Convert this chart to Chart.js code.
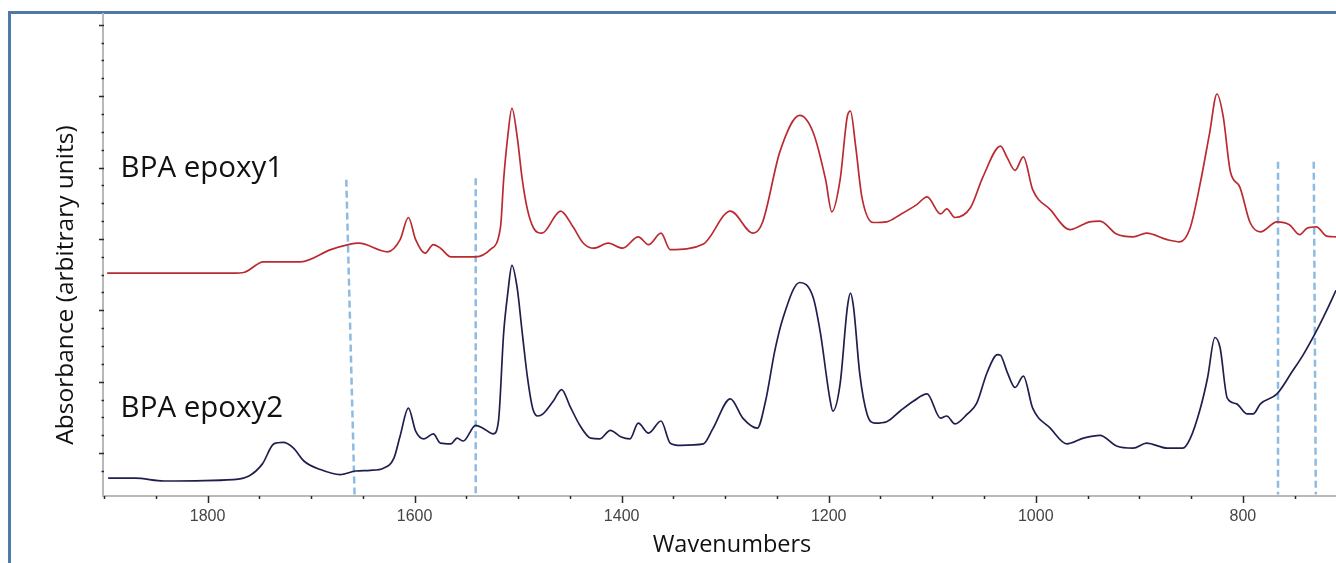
<!DOCTYPE html>
<html>
<head>
<meta charset="utf-8">
<script src="https://cdn.jsdelivr.net/npm/chart.js@4.4.0/dist/chart.umd.min.js"></script>
<style>
    html, body { margin: 0; padding: 0; background: #fff; }
    body { width: 1336px; height: 563px; overflow: hidden; position: relative; }
    .frame {
        position: absolute; left: 8px; top: 11px; right: -10px; bottom: -10px;
        border-left: 3px solid #4f7aa8; border-top: 3px solid #4f7aa8;
    }
    #wrap { position: absolute; left: 0; top: 0; width: 1336px; height: 563px; }
</style>
</head>
<body>
<div class="frame"></div>
<div id="wrap"><canvas id="irChart"></canvas></div>
<script>
// Spectre BPA epoxy1 (rouge)
const epoxy1Wn = [1897, 1842, 1775, 1765, 1746, 1710, 1681, 1664, 1654, 1626, 1614, 1606, 1599, 1590, 1582, 1575, 1565, 1541, 1527,
    1517, 1514, 1510, 1506, 1501, 1496, 1491, 1485, 1477, 1459, 1447, 1437, 1427, 1413, 1399, 1384, 1374, 1362, 1353, 1321,
    1295, 1273, 1264, 1247, 1228, 1215, 1203, 1197, 1189, 1182, 1179, 1174, 1168, 1157, 1144, 1131, 1115, 1105, 1092, 1086,
    1078, 1063, 1051, 1034, 1028, 1020, 1012, 1003, 986, 967, 948, 938, 922, 906, 893, 873, 861, 851, 841, 832, 825, 819,
    812, 803, 793, 783, 767, 755, 745, 738, 729, 719, 710];
const epoxy1Abs = [2.52, 2.52, 2.52, 2.53, 2.68, 2.68, 2.85, 2.92, 2.94, 2.82, 2.99, 3.30, 2.99, 2.80, 2.92, 2.87, 2.75, 2.75, 2.85,
    3.17, 3.83, 4.44, 4.83, 4.44, 3.83, 3.41, 3.15, 3.08, 3.39, 3.17, 2.94, 2.87, 2.94, 2.87, 3.03, 2.92, 3.08, 2.85, 2.93,
    3.39, 3.08, 3.23, 4.23, 4.73, 4.49, 3.83, 3.38, 3.83, 4.72, 4.79, 4.30, 3.59, 3.23, 3.24, 3.34, 3.48, 3.59, 3.35, 3.42,
    3.30, 3.44, 3.87, 4.30, 4.15, 3.96, 4.15, 3.69, 3.41, 3.13, 3.24, 3.25, 3.07, 3.03, 3.08, 2.99, 2.96, 3.15, 3.79, 4.49, 5.03, 4.72,
    3.94, 3.73, 3.23, 3.10, 3.24, 3.20, 3.06, 3.15, 3.17, 3.04, 3.03];

// Spectre BPA epoxy2 (bleu nuit)
const epoxy2Wn = [1896, 1870, 1842, 1775, 1760, 1747, 1736, 1727, 1717, 1707, 1691, 1672, 1657, 1643, 1630, 1620, 1614, 1606, 1599,
    1591, 1582, 1575, 1565, 1559, 1553, 1541, 1534, 1524, 1519, 1514, 1510, 1506, 1501, 1496, 1491, 1486, 1481, 1476, 1466,
    1458, 1450, 1440, 1430, 1421, 1411, 1401, 1392, 1384, 1374, 1362, 1353, 1343, 1321, 1312, 1295, 1283, 1269, 1261, 1252,
    1244, 1228, 1215, 1208, 1199, 1196, 1189, 1182, 1179, 1176, 1170, 1163, 1155, 1144, 1131, 1118, 1105, 1092, 1086, 1078,
    1066, 1057, 1047, 1037, 1034, 1028, 1020, 1012, 1003, 986, 970, 954, 938, 922, 906, 893, 873, 858, 851, 841, 834, 827,
    822, 815, 806, 796, 790, 783, 767, 752, 742, 730, 719, 710];
const epoxy2Abs = [-0.35, -0.35, -0.39, -0.37, -0.32, -0.15, 0.13, 0.15, 0.07, -0.11, -0.23, -0.30, -0.25, -0.24, -0.21, -0.07, 0.24, 0.63, 0.31,
    0.20, 0.27, 0.14, 0.13, 0.21, 0.17, 0.39, 0.35, 0.27, 0.45, 1.68, 2.24, 2.63, 2.32, 1.68, 1.06, 0.63, 0.52, 0.55, 0.73,
    0.89, 0.66, 0.38, 0.21, 0.20, 0.32, 0.23, 0.20, 0.42, 0.28, 0.45, 0.14, 0.11, 0.13, 0.34, 0.76, 0.49, 0.35, 0.73, 1.44,
    1.90, 2.39, 2.18, 1.68, 0.77, 0.59, 0.97, 2.04, 2.24, 2.04, 1.11, 0.55, 0.42, 0.44, 0.59, 0.73, 0.83, 0.49, 0.52, 0.41,
    0.55, 0.70, 1.13, 1.38, 1.37, 1.15, 0.92, 1.08, 0.63, 0.35, 0.13, 0.21, 0.25, 0.10, 0.07, 0.14, 0.07, 0.07, 0.20, 0.63, 1.06, 1.62,
    1.48, 0.77, 0.69, 0.55, 0.55, 0.69, 0.83, 1.15, 1.37, 1.68, 2.00, 2.28];

// Lignes repères en pointillés (haut / bas)
const markerWnTop = [1666, 1541, 766, 731.5];
const markerWnBottom = [1658, 1541, 766, 729.5];
const markerTop = [3.83, 3.85, 4.08, 4.08];
const markerBottom = -0.58;

// Axes
const xTickLabels = [1800, 1600, 1400, 1200, 1000, 800];
const xMin = 710, xMax = 1901;
const yMin = -0.6, yMax = 6.15;

const seriesLabels = ['BPA epoxy1', 'BPA epoxy2'];
const seriesLabelPos = [[1884, 3.99], [1884, 0.62]];

function toPoints(xs, ys) {
    return xs.map((v, i) => ({ x: v, y: ys[i] }));
}

const datasets = [
    {
        label: seriesLabels[0],
        data: toPoints(epoxy1Wn, epoxy1Abs),
        borderColor: '#bb2a30',
        borderWidth: 1.7,
        pointRadius: 0,
        cubicInterpolationMode: 'monotone'
    },
    {
        label: seriesLabels[1],
        data: toPoints(epoxy2Wn, epoxy2Abs),
        borderColor: '#1e1f4e',
        borderWidth: 1.7,
        pointRadius: 0,
        cubicInterpolationMode: 'monotone'
    }
];

markerWnTop.forEach((wn, i) => {
    datasets.push({
        label: 'marker' + i,
        data: [{ x: wn, y: markerTop[i] }, { x: markerWnBottom[i], y: markerBottom }],
        borderColor: '#8fbbe0',
        borderWidth: 2.5,
        borderDash: [7, 4],
        pointRadius: 0
    });
});

// Graduations, titres et étiquettes dessinés à la main
const decorations = {
    id: 'decorations',
    afterDraw(chart) {
        const { ctx, scales: { x, y }, chartArea } = chart;
        ctx.save();
        ctx.strokeStyle = '#2a2a2a';
        ctx.lineWidth = 1.5;
        ctx.beginPath();
        for (let v = 750; v <= 1900; v += 50) {
            const px = Math.round(x.getPixelForValue(v)) + 0.5;
            const len = xTickLabels.includes(v) ? 7 : 3;
            ctx.moveTo(px, chartArea.bottom);
            ctx.lineTo(px, chartArea.bottom + len);
        }
        for (let v = -0.25; v <= 6; v += 0.25) {
            const py = Math.round(y.getPixelForValue(v)) + 0.5;
            const major = Math.abs(v - Math.round(v)) < 0.01;
            ctx.moveTo(chartArea.left + 1, py);
            ctx.lineTo(chartArea.left - (major ? 4 : 1.5), py);
        }
        ctx.stroke();

        ctx.fillStyle = '#111';
        ctx.textAlign = 'left';
        ctx.textBaseline = 'middle';
        ctx.font = '29.5px "Open Sans"';
        seriesLabels.forEach((txt, i) => {
            ctx.fillText(txt, x.getPixelForValue(seriesLabelPos[i][0]), y.getPixelForValue(seriesLabelPos[i][1]));
        });

        ctx.textAlign = 'center';
        ctx.font = '23.5px "Open Sans"';
        ctx.fillText('Wavenumbers', 732, 545);
        ctx.font = '24.5px "Open Sans"';
        ctx.translate(66, 285);
        ctx.rotate(-Math.PI / 2);
        ctx.fillText('Absorbance (arbitrary units)', 0, 0);
        ctx.restore();
    }
};

const irChart = new Chart(document.getElementById('irChart'), {
    type: 'line',
    data: { datasets: datasets },
    options: {
        responsive: true,
        maintainAspectRatio: false,
        animation: false,
        layout: { padding: { top: 14, left: 0, right: 0, bottom: 0 } },
        plugins: { legend: { display: false }, tooltip: { enabled: false } },
        scales: {
            x: {
                type: 'linear',
                reverse: true,
                min: xMin,
                max: xMax,
                afterFit: function(scale) { scale.height = 67; },
                afterBuildTicks: function(scale) {
                    scale.ticks = xTickLabels.map(v => ({ value: v }));
                },
                grid: { display: false, drawTicks: false },
                border: { display: true, color: '#b9b9b9', width: 2 },
                ticks: {
                    padding: 11,
                    maxRotation: 0,
                    color: '#444',
                    font: { family: 'Liberation Sans', size: 16 },
                    callback: function(value) { return String(value); }
                }
            },
            y: {
                min: yMin,
                max: yMax,
                afterFit: function(scale) { scale.width = 103; },
                grid: { display: false, drawTicks: false },
                border: { display: true, color: '#b9b9b9', width: 2 },
                ticks: { display: false }
            }
        }
    },
    plugins: [decorations]
});
</script>
</body>
</html>
